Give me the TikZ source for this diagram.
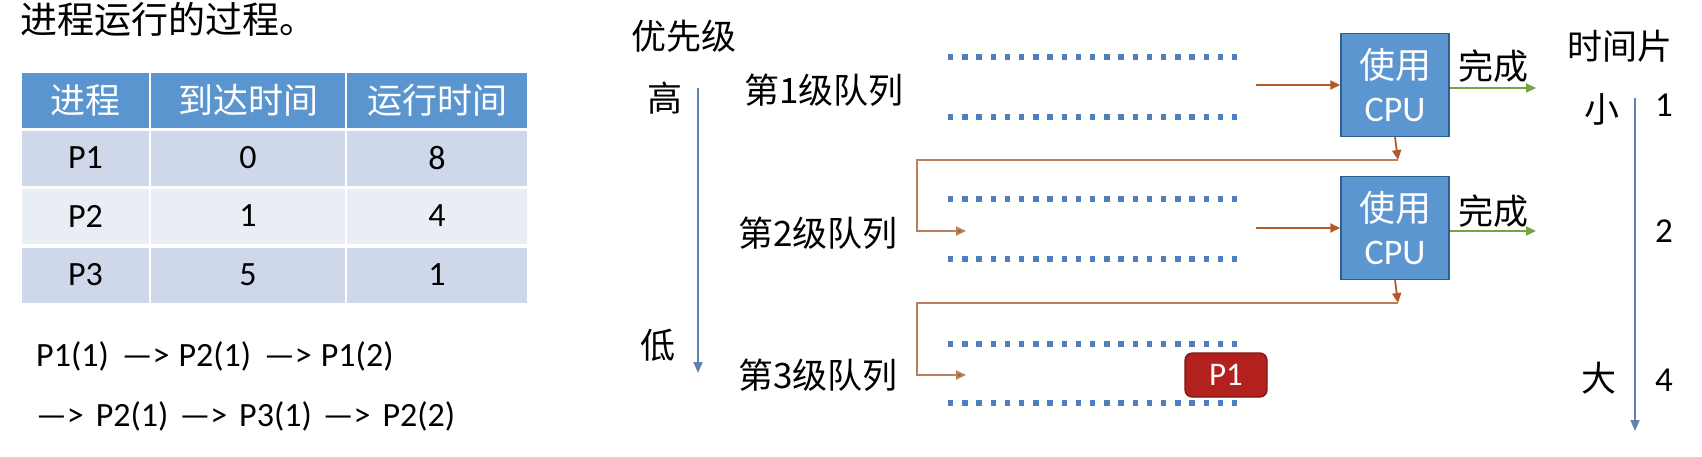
\documentclass[tikz,border=0pt]{standalone}
\usepackage{fontspec}
\setmainfont{Carlito}
\newfontfamily\cjk{Noto Sans CJK SC}
\usetikzlibrary{arrows.meta}
\definecolor{hdr}{HTML}{5B95CF}
\definecolor{rowa}{HTML}{CFD8EA}
\definecolor{rowb}{HTML}{E9EDF4}
\definecolor{qdot}{HTML}{4F7FBA}
\definecolor{brn}{HTML}{B35A2A}
\definecolor{brnl}{HTML}{B9805E}
\definecolor{grn}{HTML}{77A345}
\definecolor{cpuf}{HTML}{5B96D0}
\definecolor{cpud}{HTML}{2F5F8F}
\definecolor{axisc}{HTML}{5F83AE}
\definecolor{pred}{HTML}{B3211F}
\definecolor{predd}{HTML}{7F1414}
\newcommand\seqarr{—>}
\tikzset{
  hcell/.style={fill=hdr, inner sep=0pt, minimum height=55pt, text=white, font=\cjk\fontsize{35}{38}\selectfont},
  dcell/.style={inner sep=0pt, minimum height=55pt, text=black, font=\fontsize{34}{36}\selectfont},
  lbl/.style={inner sep=0pt, font=\cjk\fontsize{35}{40}\selectfont},
  numlbl/.style={inner sep=0pt, font=\fontsize{35}{38}\selectfont},
  seqtxt/.style={inner sep=0pt, font=\fontsize{34}{38}\selectfont},
  qline/.style={draw=qdot, line width=5.4pt, dash pattern=on 5.4pt off 8.8pt},
  brarrow/.style={draw=brn, line width=1.8pt, -{Triangle[length=10pt,width=9pt]}},
  fbline/.style={draw=brnl, line width=1.8pt, -{Triangle[length=10pt,width=9pt,fill=brn]}},
  grarrow/.style={draw=grn, line width=1.8pt, -{Triangle[length=10pt,width=9pt]}},
  axarrow/.style={draw=axisc, line width=1.6pt, -{Triangle[length=11pt,width=9pt]}},
  cpubox/.style={fill=cpuf, draw=cpud, line width=1.5pt, minimum width=108pt, minimum height=103pt, inner sep=0pt, align=center, text=white, font=\fontsize{36}{43}\selectfont},
  pbox/.style={fill=pred, draw=predd, line width=1.2pt, rounded corners=7pt, minimum width=82pt, minimum height=44pt, inner sep=0pt, text=white!85!pink, font=\fontsize{33}{36}\selectfont}
}
\begin{document}
\begin{tikzpicture}[x=1pt,y=-1pt]
\useasboundingbox (0,0) rectangle (1702,456);
% title
\node[lbl, font=\cjk\fontsize{37}{40}\selectfont, anchor=west] (title) at (20,19) {进程运行的过程。};
% table
\node[hcell, minimum width=127pt] (h1) at (85.5,100) {进程};
\node[hcell, minimum width=194pt] (h2) at (248,100) {到达时间};
\node[hcell, minimum width=180pt] (h3) at (437,100) {运行时间};
\node[dcell, fill=rowa, minimum width=127pt] (a1) at (85.5,158) {P1};
\node[dcell, fill=rowa, minimum width=194pt] (a2) at (248,158) {0};
\node[dcell, fill=rowa, minimum width=180pt] (a3) at (437,158) {8};
\node[dcell, fill=rowb, minimum width=127pt] (b1) at (85.5,216) {P2};
\node[dcell, fill=rowb, minimum width=194pt] (b2) at (248,216) {1};
\node[dcell, fill=rowb, minimum width=180pt] (b3) at (437,216) {4};
\node[dcell, fill=rowa, minimum width=127pt] (c1) at (85.5,275) {P3};
\node[dcell, fill=rowa, minimum width=194pt] (c2) at (248,275) {5};
\node[dcell, fill=rowa, minimum width=180pt] (c3) at (437,275) {1};
% sequence
\node[seqtxt, anchor=west] (seq1) at (36,356) {P1(1)\hspace{13pt}\seqarr\hspace{9pt}P2(1)\hspace{13pt}\seqarr\hspace{9pt}P1(2)};
\node[seqtxt, anchor=west] (seq2) at (36,416) {\seqarr\hspace{12pt}P2(1)\hspace{11pt}\seqarr\hspace{12pt}P3(1)\hspace{11pt}\seqarr\hspace{12pt}P2(2)};
% priority axis
\node[lbl] (prio) at (684,36) {优先级};
\node[lbl] (hi) at (665,98) {高};
\node[lbl] (lo) at (658,345) {低};
\coordinate (pa) at (698,88);
\coordinate (pb) at (698,373);
\draw[axarrow] (pa) -- (pb);
% queue labels
\node[lbl] (ql1) at (824,90) {第1级队列};
\node[lbl] (ql2) at (818,233) {第2级队列};
\node[lbl] (ql3) at (818,375) {第3级队列};
% queue dotted lines
\draw[qline] (948,57) -- (1237,57);
\draw[qline] (948,117) -- (1237,117);
\draw[qline] (948,199) -- (1237,199);
\draw[qline] (948,259) -- (1237,259);
\draw[qline] (948,344) -- (1237,344);
\draw[qline] (948,403) -- (1237,403);
% CPU boxes
\node[cpubox] (cpu1) at (1395,85) {{\cjk 使用}\\CPU};
\node[cpubox] (cpu2) at (1395,228) {{\cjk 使用}\\CPU};
\coordinate (q1o) at (1256,85);
\coordinate (q2o) at (1256,228);
\draw[brarrow] (q1o) -- (cpu1.west);
\draw[brarrow] (q2o) -- (cpu2.west);
% done
\coordinate (d1) at (1536,88);
\coordinate (d2) at (1536,231);
\draw[grarrow] (cpu1.east |- d1) -- (d1);
\draw[grarrow] (cpu2.east |- d2) -- (d2);
\node[lbl] (done1) at (1493,66) {完成};
\node[lbl] (done2) at (1493,211) {完成};
% feedback
\coordinate (f1) at (1398,160);
\coordinate (f1l) at (917,160);
\coordinate (q2i) at (966,231);
\coordinate (f2) at (1398,303);
\coordinate (f2l) at (917,303);
\coordinate (q3i) at (966,375);
\draw[brarrow] (cpu1.south) -- (f1);
\draw[brarrow] (cpu2.south) -- (f2);
\draw[fbline] (f1) -- (f1l) -- (f1l |- q2i) -- (q2i);
\draw[fbline] (f2) -- (f2l) -- (f2l |- q3i) -- (q3i);
% P1 token
\node[pbox] (p1) at (1226,375) {P1};
% time slice axis
\node[lbl] (ts) at (1620,46) {时间片};
\node[lbl] (small) at (1602,109) {小};
\node[lbl] (big) at (1599,378) {大};
\node[numlbl] (t1) at (1664,105) {1};
\node[numlbl] (t2) at (1664,231) {2};
\node[numlbl] (t4) at (1664,380) {4};
\coordinate (ta) at (1635,98);
\coordinate (tb) at (1635,431);
\draw[axarrow] (ta) -- (tb);
\end{tikzpicture}
\end{document}
